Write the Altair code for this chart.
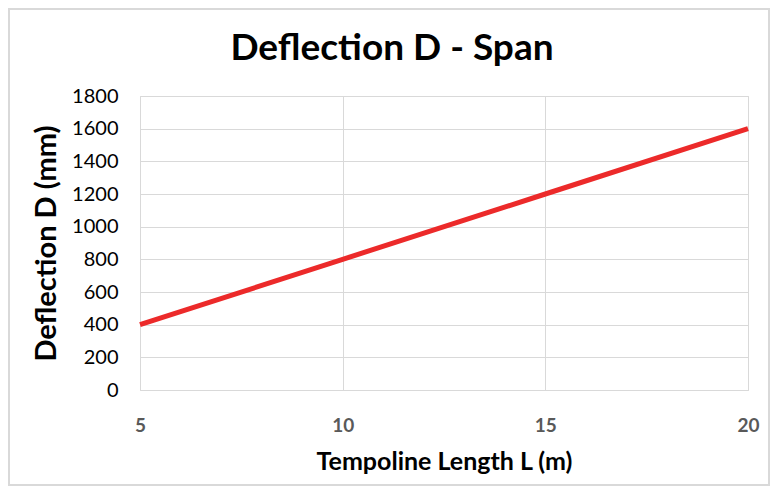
import altair as alt
import pandas as pd

length_m = [5, 10, 15, 20]
deflection_mm = [400, 800, 1200, 1600]
title_text = ["Deflection D - Span"]

df = pd.DataFrame({"L": length_m, "D": deflection_mm})
tdf = pd.DataFrame({"t": title_text})

W, H = 608, 294
FONT = "Lato"

line = alt.Chart(df).mark_line(color="#ec2a2a", strokeWidth=5, clip=False).encode(
    x=alt.X("L:Q", scale=alt.Scale(domain=[5, 20], nice=False, zero=False),
            axis=alt.Axis(values=[5, 10, 15, 20], title="Tempoline Length L (m)", format="d",
                          labelFont=FONT, labelFontSize=19, labelFontWeight="bold",
                          labelColor="#595959", labelPadding=26, labelFlush=False,
                          ticks=False, domain=False,
                          gridColor="#d9d9d9", titleFont=FONT, titleFontSize=25,
                          titleFontWeight="bold", titleColor="#000000", titlePadding=14)),
    y=alt.Y("D:Q", scale=alt.Scale(domain=[0, 1800], nice=False),
            axis=alt.Axis(values=list(range(0, 1801, 200)), title="Deflection D (mm)", format="d",
                          labelFont=FONT, labelFontSize=20, labelColor="#000000",
                          labelPadding=22, labelFlush=False, ticks=False, domain=False,
                          gridColor="#d9d9d9",
                          titleFont=FONT, titleFontSize=29, titleFontWeight="bold",
                          titleColor="#000000", titlePadding=10)),
)

border = alt.Chart(df).mark_rect(fill=None, stroke="#d9d9d9", strokeWidth=1.5, clip=False).encode(
    x=alt.value(-131), x2=alt.value(W + 21), y=alt.value(-87), y2=alt.value(H + 95)
)

title = alt.Chart(tdf).mark_text(font=FONT, fontSize=37, fontWeight="bold", color="#000000",
                                 align="center", baseline="alphabetic", clip=False).encode(
    text="t:N", x=alt.value(252), y=alt.value(-36)
)

chart = alt.layer(border, line, title).properties(
    width=W, height=H,
    padding={"left": 132, "top": 88, "right": 22, "bottom": 96},
    autosize=alt.AutoSizeParams(type="none"),
).configure_view(stroke="#d9d9d9", strokeWidth=1)

chart.save("out.html", embed_options={"renderer": "svg", "actions": False})
